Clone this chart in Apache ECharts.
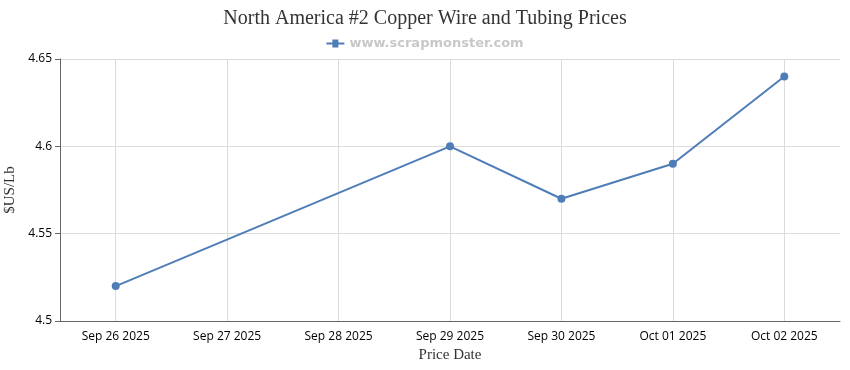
<!DOCTYPE html>
<html>
<head>
<meta charset="utf-8">
<script src="https://cdn.jsdelivr.net/npm/echarts@6/dist/echarts.min.js"></script>
<style>html,body{margin:0;padding:0;background:#fff}#c{width:850px;height:370px}</style>
</head>
<body>
<div id="c"></div>
<script>
const categories = ['Sep 26 2025','Sep 27 2025','Sep 28 2025','Sep 29 2025','Sep 30 2025','Oct 01 2025','Oct 02 2025'];
const prices = [4.52, null, null, 4.60, 4.57, 4.59, 4.64];
const yTicks = {min: 4.5, max: 4.65, interval: 0.05};

const chart = echarts.init(document.getElementById('c'), null, {renderer: 'canvas'});
chart.setOption({
  animation: false,
  backgroundColor: '#fff',
  title: {
    text: 'North America #2 Copper Wire and Tubing Prices',
    left: 'center', top: 4,
    textStyle: {fontFamily: 'Liberation Serif', fontWeight: 'normal', fontSize: 20, color: '#333'}
  },
  legend: {
    top: 32, left: 'center',
    itemWidth: 18, itemHeight: 8,
    data: [{name: 'www.scrapmonster.com', icon: 'path://M0,3 L6,3 L6,0 L12,0 L12,3 L18,3 L18,5 L12,5 L12,8 L6,8 L6,5 L0,5 Z'}],
    textStyle: {color: '#c8c8c8', fontWeight: 'bold', fontSize: 13, fontFamily: 'DejaVu Sans'}
  },
  grid: {left: 60, right: 10, top: 59, bottom: 49, containLabel: false, outerBoundsMode: 'none'},
  xAxis: {
    type: 'category',
    data: categories,
    boundaryGap: true,
    name: 'Price Date',
    nameLocation: 'middle',
    nameGap: 26,
    nameTextStyle: {fontFamily: 'Liberation Serif', fontSize: 15, color: '#333'},
    axisLine: {lineStyle: {color: '#666'}},
    axisTick: {alignWithLabel: true, length: 5, lineStyle: {color: '#666'}},
    axisLabel: {color: '#000', fontSize: 12, margin: 10, fontFamily: 'Open Sans', interval: 0},
    splitLine: {show: true, alignWithLabel: true, lineStyle: {color: '#dcdcdc'}},
    splitArea: {show: false}
  },
  yAxis: {
    type: 'value',
    min: yTicks.min, max: yTicks.max, interval: yTicks.interval,
    name: '$US/Lb',
    nameLocation: 'middle',
    nameGap: 41,
    nameTextStyle: {fontFamily: 'Liberation Serif', fontSize: 15, color: '#333'},
    axisLine: {show: true, lineStyle: {color: '#666'}},
    axisTick: {show: true, length: 5, lineStyle: {color: '#666'}},
    axisLabel: {color: '#000', fontSize: 12, margin: 8, fontFamily: 'Open Sans',
      formatter: v => String(parseFloat(v.toFixed(2)))},
    splitLine: {show: true, lineStyle: {color: '#dcdcdc'}}
  },
  series: [{
    name: 'www.scrapmonster.com',
    type: 'line',
    data: prices,
    connectNulls: true,
    symbol: 'circle',
    symbolSize: 8,
    itemStyle: {color: '#4f7db8'},
    lineStyle: {color: '#4f7db8', width: 2}
  }]
});
</script>
</body>
</html>
